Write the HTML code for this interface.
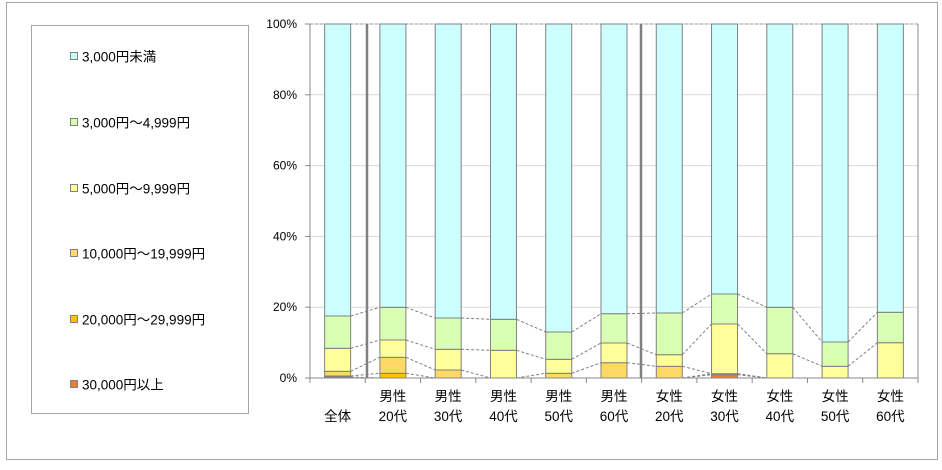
<!DOCTYPE html>
<html><head><meta charset="utf-8"><style>
body{margin:0;background:#fff;width:942px;height:465px;overflow:hidden}
text{font-family:"Liberation Sans","Noto Sans CJK JP",sans-serif;fill:#000}
</style></head><body>
<svg id="s" width="942" height="465" xmlns="http://www.w3.org/2000/svg">
<rect x="6.5" y="2.5" width="931" height="457" fill="#fff" stroke="#a6a6a6"/>
<rect x="31.5" y="25.5" width="217" height="388" fill="#fff" stroke="#a6a6a6"/>
<g id="grid"></g>
<g id="bars"></g>
<g id="lab"></g>
</svg>
<script>
const NS="http://www.w3.org/2000/svg";
function el(p,t,a,txt){const e=document.createElementNS(NS,t);for(const k in a)e.setAttribute(k,a[k]);if(txt!==undefined)e.textContent=txt;document.getElementById(p).appendChild(e);return e;}
const Y0=378,Y1=24,L=310,R=918;
for(let i=0;i<=5;i++){const y=Y0-(Y0-Y1)*i/5;
 if(i>0)el('grid','line',{x1:L,x2:R,y1:y,y2:y,stroke:'#d9d9d9','stroke-width':1});
 el('grid','line',{x1:305,x2:L,y1:y,y2:y,stroke:'#888'});
 el('lab','text',{x:297,y:y+4,'font-size':12,'text-anchor':'end'},(i*20)+'%');}
const cols=['#ed7d31','#ffc000','#ffd966','#ffff99','#d9ffb3','#ccffff'];
const B=[
[378,377,376,371.3,348.3,316],
[378,378,373.3,357.3,340,307.3],
[378,378,378,370,349.3,318],
[378,378,378,378,350.3,319.3],
[378,378,378,373.3,359.3,332],
[378,378,378,362.7,343,313.7],
[378,378,378,366.3,354.7,313],
[378,374.7,373.7,373.7,324,294],
[378,378,378,378,353.7,307.3],
[378,378,378,378,366.3,342],
[378,378,378,378,342.7,312.3]];
const W=(R-L)/11,bw=26;
const cx=i=>L+W*(i+0.5);
for(let i=0;i<10;i++)for(let k=1;k<6;k++){
 el('bars','line',{x1:cx(i)+bw/2,x2:cx(i+1)-bw/2,y1:B[i][k],y2:B[i+1][k],stroke:'#808080','stroke-dasharray':'3,2','stroke-width':1});}
el('bars','line',{x1:L,x2:R,y1:Y1,y2:Y1,stroke:'#999','stroke-dasharray':'3,2'});
for(let i=0;i<11;i++){
 for(let k=0;k<6;k++){const bot=B[i][k];const top=k<5?B[i][k+1]:Y1;
  if(bot-top>0.4)el('bars','rect',{x:cx(i)-bw/2,y:top,width:bw,height:bot-top,fill:cols[k],stroke:'#808080','stroke-width':1});}}
el('bars','line',{x1:L,x2:L,y1:Y1,y2:Y0,stroke:'#888'});
el('bars','line',{x1:R,x2:R,y1:Y1,y2:Y0,stroke:'#888'});
el('bars','line',{x1:L,x2:R,y1:Y0,y2:Y0,stroke:'#888'});
for(let i=0;i<=11;i++)el('bars','line',{x1:L+W*i,x2:L+W*i,y1:Y0,y2:Y0+5,stroke:'#888'});
el('bars','line',{x1:367,x2:367,y1:Y1,y2:Y0,stroke:'#808080','stroke-width':2.5});
el('bars','line',{x1:641,x2:641,y1:Y1,y2:Y0,stroke:'#808080','stroke-width':2.5});
const c1=['','男性','男性','男性','男性','男性','女性','女性','女性','女性','女性'];
const c2=['全体','20代','30代','40代','50代','60代','20代','30代','40代','50代','60代'];
for(let i=0;i<11;i++){
 if(c1[i])el('lab','text',{x:cx(i),y:401,'font-size':13.5,'text-anchor':'middle'},c1[i]);
 el('lab','text',{x:cx(i),y:421,'font-size':13.5,'text-anchor':'middle'},c2[i]);}
const lg=['3,000円未満','3,000円～4,999円','5,000円～9,999円','10,000円～19,999円','20,000円～29,999円','30,000円以上'];
const ly=[57,123,189,254,320,385];
for(let j=0;j<6;j++){
 el('lab','rect',{x:70.5,y:ly[j]-4.5,width:7,height:7,fill:cols[5-j],stroke:'#808080'});
 el('lab','text',{x:82,y:ly[j]+4.5,'font-size':13.5},lg[j]);}
</script>
</body></html>
